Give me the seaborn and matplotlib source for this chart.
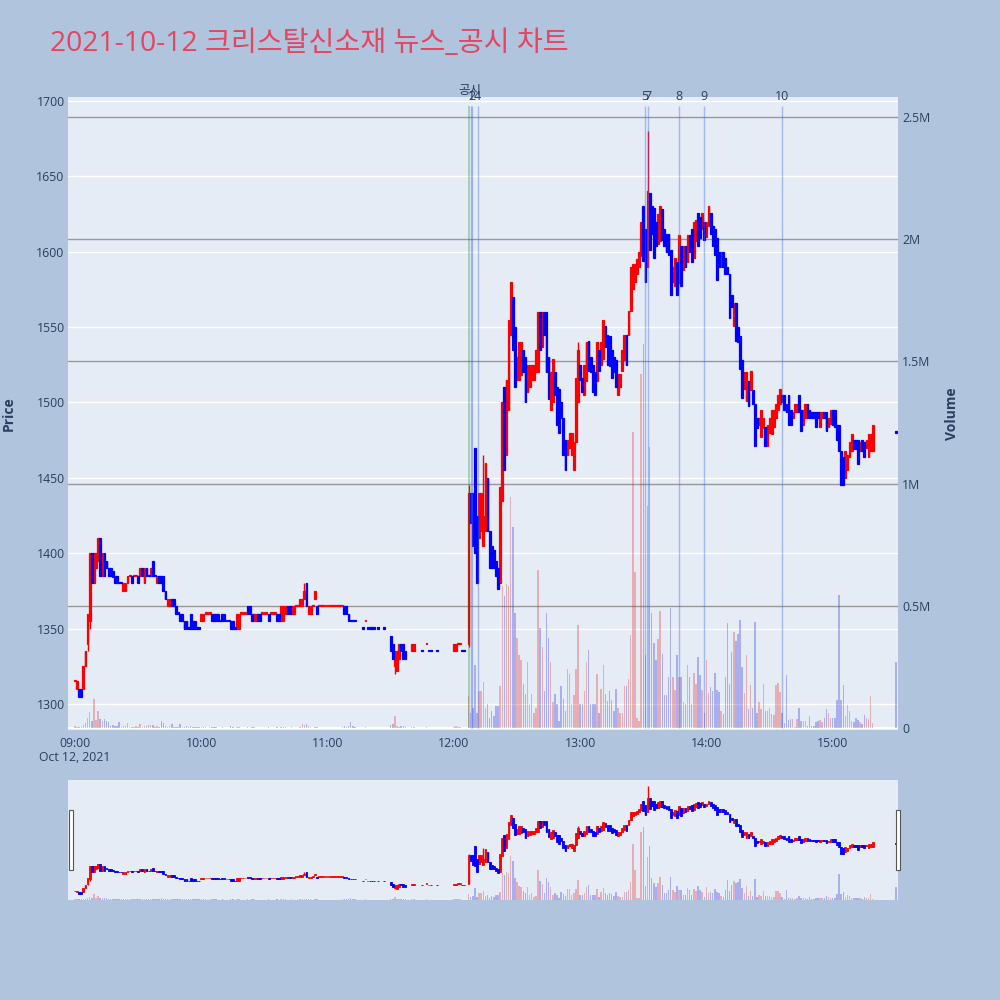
import numpy as np
import pandas as pd
import matplotlib
matplotlib.use("Agg")
import matplotlib.pyplot as plt
from matplotlib.patches import Rectangle
import seaborn as sns

N = None
title = "2021-10-12 크리스탈신소재 뉴스_공시 차트"

# 1-minute candles, list index = minutes after 09:00, None = no trade
opens = [
    # 09:00
    1315, 1310, 1310, 1310, 1310, 1325, 1340, 1355, 1400, 1380,
    1390, 1395, 1410, 1385, 1400, 1395, 1390, 1390, 1388, 1385,
    1385, 1380, 1380, 1375, 1375, 1380, 1385, 1385, 1385, 1385,
    1385, 1385, 1390, 1380, 1390, 1385, 1385, 1395, 1385, 1380,
    1385, 1385, 1385, 1375, 1365, 1365, 1370, 1370, 1365, 1360,
    1360, 1360, 1355, 1355, 1350, 1360, 1355, 1355, 1350, 1350,
    # 10:00
    1355, 1355, 1360, 1360, 1360, 1360, 1360, 1360, 1360, 1355,
    1360, 1360, 1355, 1355, 1355, 1355, 1350, 1350, 1350, 1360,
    1360, 1360, 1365, 1365, 1360, 1355, 1355, 1360, 1360, 1360,
    1360, 1360, 1360, 1360, 1360, 1360, 1360, 1360, 1355, 1355,
    1360, 1365, 1365, 1360, 1360, 1365, 1365, 1365, 1365, 1370,
    1380, 1360, 1360, 1365, 1370, 1365, 1365, 1365, 1365, 1365,
    # 11:00
    1365, 1365, 1365, 1365, 1365, 1365, 1365, 1365, 1365, 1365,
    1360, 1355, 1355, 1355, N, N, N, 1350, 1355, 1350,
    1350, 1350, 1350, N, 1350, N, N, 1350, N, N,
    1345, 1340, 1325, 1322, 1330, 1340, 1340, 1335, N, N,
    1335, 1335, N, N, N, 1335, N, 1340, 1335, 1335,
    N, N, 1335, N, N, N, N, N, N, N,
    # 12:00
    1335, 1335, 1340, 1340, 1335, 1335, N, 1340, 1440, 1440,
    1470, 1425, 1410, 1415, 1405, 1415, 1450, 1415, 1405, 1402,
    1395, 1390, 1380, 1435, 1510, 1465, 1495, 1545, 1570, 1550,
    1515, 1515, 1518, 1535, 1530, 1507, 1510, 1515, 1515, 1520,
    1520, 1560, 1537, 1560, 1560, 1530, 1495, 1500, 1520, 1510,
    1509, 1500, 1490, 1475, 1465, 1470, 1465, 1455, 1474, 1500,
    # 13:00
    1525, 1516, 1505, 1514, 1541, 1530, 1525, 1520, 1514, 1535,
    1525, 1529, 1551, 1545, 1544, 1535, 1530, 1528, 1505, 1510,
    1521, 1528, 1545, 1545, 1561, 1575, 1580, 1585, 1590, 1597,
    1630, 1615, 1590, 1639, 1630, 1629, 1620, 1605, 1607, 1628,
    1615, 1612, 1612, 1601, 1580, 1577, 1593, 1579, 1604, 1588,
    1604, 1593, 1611, 1615, 1596, 1607, 1626, 1623, 1615, 1620,
    # 14:00
    1610, 1617, 1626, 1617, 1615, 1609, 1600, 1590, 1600, 1596,
    1590, 1585, 1571, 1551, 1566, 1550, 1544, 1528, 1509, 1501,
    1514, 1508, 1508, 1499, 1490, 1485, 1477, 1483, 1484, 1471,
    1480, 1479, 1484, 1490, 1495, 1499, 1505, 1505, 1499, 1505,
    1495, 1490, 1494, 1494, 1505, 1495, 1485, 1490, 1499, 1495,
    1494, 1494, 1494, 1494, 1484, 1490, 1494, 1494, 1484, 1486,
    # 15:00
    1495, 1495, 1485, 1485, 1468, 1464, 1450, 1455, 1464, 1468,
    1475, 1475, 1475, 1468, 1475, 1474, 1470, 1464, 1468, 1468,
    N, N, N, N, N, N, N, N, N, N,
    1480,
]
closes = [
    # 09:00
    1315, 1315, 1305, 1305, 1325, 1335, 1360, 1400, 1380, 1400,
    1400, 1410, 1385, 1400, 1385, 1390, 1385, 1385, 1384, 1380,
    1380, 1380, 1380, 1380, 1380, 1385, 1385, 1380, 1385, 1385,
    1380, 1390, 1385, 1390, 1385, 1385, 1390, 1385, 1385, 1385,
    1380, 1380, 1375, 1370, 1370, 1370, 1365, 1365, 1360, 1360,
    1355, 1355, 1350, 1350, 1350, 1350, 1350, 1350, 1350, 1350,
    # 10:00
    1360, 1360, 1360, 1360, 1360, 1355, 1355, 1355, 1355, 1355,
    1355, 1355, 1355, 1355, 1350, 1350, 1350, 1360, 1360, 1360,
    1360, 1360, 1360, 1360, 1355, 1360, 1360, 1355, 1355, 1360,
    1360, 1360, 1355, 1360, 1360, 1360, 1355, 1355, 1365, 1365,
    1365, 1360, 1360, 1365, 1365, 1365, 1365, 1370, 1370, 1375,
    1365, 1365, 1365, 1365, 1375, 1360, 1365, 1365, 1365, 1365,
    # 11:00
    1365, 1365, 1365, 1365, 1365, 1365, 1365, 1365, 1360, 1360,
    1355, 1355, 1355, 1355, N, N, N, 1350, 1355, 1350,
    1350, 1350, 1350, N, 1350, N, N, 1350, N, N,
    1335, 1330, 1335, 1335, 1340, 1335, 1330, 1330, N, N,
    1340, 1340, N, N, N, 1335, N, 1340, 1335, 1335,
    N, N, 1335, N, N, N, N, N, N, N,
    # 12:00
    1340, 1340, 1340, 1340, 1335, 1335, N, 1440, 1420, 1405,
    1400, 1380, 1440, 1440, 1425, 1460, 1415, 1390, 1390, 1390,
    1385, 1376, 1444, 1500, 1455, 1515, 1555, 1580, 1535, 1510,
    1530, 1540, 1540, 1520, 1500, 1525, 1525, 1525, 1525, 1535,
    1560, 1535, 1560, 1545, 1520, 1502, 1520, 1529, 1505, 1485,
    1480, 1490, 1465, 1455, 1475, 1480, 1480, 1474, 1516, 1535,
    # 13:00
    1515, 1507, 1525, 1540, 1521, 1520, 1507, 1505, 1540, 1521,
    1540, 1555, 1537, 1525, 1524, 1516, 1520, 1510, 1519, 1519,
    1535, 1545, 1525, 1561, 1590, 1592, 1592, 1595, 1600, 1620,
    1594, 1580, 1640, 1601, 1612, 1596, 1604, 1625, 1630, 1608,
    1604, 1600, 1598, 1571, 1590, 1596, 1571, 1611, 1577, 1604,
    1590, 1611, 1600, 1593, 1620, 1621, 1604, 1609, 1626, 1608,
    # 14:00
    1620, 1630, 1612, 1604, 1598, 1581, 1590, 1600, 1590, 1585,
    1585, 1556, 1563, 1566, 1541, 1540, 1522, 1503, 1520, 1520,
    1498, 1521, 1499, 1471, 1483, 1490, 1495, 1490, 1471, 1485,
    1490, 1495, 1495, 1499, 1505, 1509, 1500, 1495, 1494, 1485,
    1485, 1494, 1499, 1499, 1494, 1481, 1495, 1499, 1490, 1490,
    1490, 1490, 1484, 1490, 1494, 1494, 1490, 1481, 1490, 1495,
    # 15:00
    1485, 1484, 1475, 1468, 1445, 1445, 1468, 1465, 1474, 1479,
    1469, 1469, 1459, 1474, 1468, 1464, 1475, 1479, 1479, 1485,
    N, N, N, N, N, N, N, N, N, N,
    1480,
]
# volume per minute, thousand shares
volumes = [
    # 09:00
    8, 5, 6, 5, 12, 20, 40, 64, 30, 120,
    34, 68, 38, 27, 36, 27, 23, 10, 12, 8,
    10, 23, 6, 8, 10, 20, 5, 6, 4, 8,
    6, 18, 6, 10, 8, 14, 12, 14, 6, 8,
    6, 30, 20, 10, 6, 8, 15, 5, 6, 4,
    15, 6, 5, 8, 4, 10, 6, 5, 3, 4,
    # 10:00
    5, 4, 3, 2, 3, 4, 3, 3, 2, 2,
    3, 2, 2, 2, 8, 3, 2, 4, 3, 2,
    2, 2, 3, 2, 6, 3, 2, 2, 2, 2,
    2, 2, 3, 2, 2, 2, 6, 2, 4, 3,
    3, 2, 2, 3, 2, 2, 2, 5, 15, 12,
    18, 8, 5, 2, 3, 4, 2, 2, 2, 2,
    # 11:00
    2, 2, 2, 2, 2, 2, 2, 3, 10, 6,
    8, 25, 10, 3, N, N, N, 2, 3, 2,
    2, 2, 2, N, 2, N, N, 2, N, N,
    13, 15, 50, 7, 5, 10, 8, 4, N, N,
    4, 3, N, N, N, 2, N, 3, 2, 2,
    N, N, 2, N, N, N, N, N, N, N,
    # 12:00
    6, 10, 3, 3, 2, 2, N, 130, 60, 80,
    260, 60, 150, 150, 190, 80, 100, 40, 70, 50,
    90, 90, 170, 580, 540, 590, 580, 945, 823, 470,
    370, 300, 280, 180, 140, 270, 100, 140, 60, 80,
    646, 410, 330, 151, 470, 370, 270, 108, 140, 100,
    30, 170, 120, 70, 240, 220, 100, 135, 240, 420,
    # 13:00
    100, 100, 150, 270, 320, 100, 100, 100, 220, 60,
    160, 260, 140, 110, 150, 115, 70, 160, 80, 60,
    60, 170, 170, 200, 380, 1210, 640, 40, 30, 1450,
    1570, 300, 910, 1150, 470, 350, 280, 364, 480, 305,
    135, 135, 207, 490, 207, 155, 300, 210, 210, 107,
    100, 260, 207, 100, 226, 180, 290, 217, 155, 60,
    # 14:00
    280, 145, 166, 152, 227, 155, 148, 70, 57, 210,
    428, 180, 310, 394, 356, 385, 442, 250, 142, 300,
    78, 176, 80, 435, 63, 107, 76, 180, 71, 71,
    80, 56, 53, 176, 183, 148, 60, 20, 217, 33,
    35, 35, 5, 35, 84, 30, 28, 28, 10, 48,
    10, 8, 25, 30, 33, 25, 40, 77, 60, 40,
    # 15:00
    40, 40, 114, 544, 114, 175, 48, 94, 70, 30,
    25, 40, 33, 25, 15, 53, 40, 35, 130, 20,
    N, N, N, N, N, N, N, N, N, N,
    270,
]
# wicks sticking out of the body: minute -> (low, high)
wicks = {6: (1335, 1360), 7: (1350, 1400), 109: (1370, 1380), 152: (1320, 1335),
         187: (1338, 1445), 190: (1400, 1470), 194: (1405, 1465), 239: (1500, 1540),
         272: (1590, 1680), 364: (1445, 1468)}

event_labels = ["공시", "1", "2", "4", "5", "7", "8", "9", "10"]
event_minutes = [187.4, 188.2, 188.6, 191.3, 270.8, 272.3, 286.9, 298.8, 335.7]

time_labels = ["09:00", "10:00", "11:00", "12:00", "13:00", "14:00", "15:00"]
price_ticks = [1300, 1350, 1400, 1450, 1500, 1550, 1600, 1650, 1700]
vol_ticks = [0, 500, 1000, 1500, 2000, 2500]
vol_labels = ["0", "0.5M", "1M", "1.5M", "2M", "2.5M"]

assert len(opens) == len(closes) == len(volumes) == 391

df = pd.DataFrame({"open": opens, "close": closes, "volume": volumes}, dtype=float)
df["minute"] = df.index.astype(float)
df = df.dropna()

# direction like plotly: flat candles follow the previous close
dirs = []
prev_c, prev_d = None, "up"
for o, c in zip(df["open"], df["close"]):
    if c > o:
        d = "up"
    elif c < o:
        d = "down"
    elif prev_c is not None and c > prev_c:
        d = "up"
    elif prev_c is not None and c < prev_c:
        d = "down"
    else:
        d = prev_d
    dirs.append(d)
    prev_c, prev_d = c, d
df["dir"] = dirs
df["low"] = df[["open", "close"]].min(axis=1)
df["high"] = df[["open", "close"]].max(axis=1)
for m, (lo, hi) in wicks.items():
    df.loc[m, "low"] = min(df.loc[m, "low"], lo)
    df.loc[m, "high"] = max(df.loc[m, "high"], hi)

BG = "#B0C4DE"
PLOT_BG = "#E5ECF6"
TXT = "#2a3f5f"
colors = {"up": "#FF0000", "down": "#0000FF"}

sns.set_style("white")
plt.rcParams["font.family"] = ["Open Sans", "Noto Sans CJK KR", "DejaVu Sans"]

xlim = (-3.3, 391.0)
plim = (1282.8, 1702.6)
vlim = (-8, 2582)

fig = plt.figure(figsize=(10, 10), dpi=100, facecolor=BG)


def draw(rect, small=False):
    axv = fig.add_axes(rect, facecolor=PLOT_BG)
    axp = fig.add_axes(rect)
    axp.patch.set_visible(False)
    for a in (axv, axp):
        for s in a.spines.values():
            s.set_visible(False)

    sns.barplot(data=df, x="minute", y="volume", hue="dir", palette=colors,
                native_scale=True, dodge=False, width=0.7, errorbar=None,
                legend=False, alpha=0.3, linewidth=0, ax=axv)

    for key, col in colors.items():
        sub = df[df["dir"] == key]
        axp.vlines(sub["minute"], sub["low"], sub["high"], color=col,
                   lw=1.0, zorder=3)
        bottom = sub[["open", "close"]].min(axis=1)
        height = (sub["close"] - sub["open"]).abs().clip(lower=0.8)
        axp.bar(sub["minute"], height, bottom=bottom, width=0.85, color=col,
                edgecolor=col, linewidth=0.9 if not small else 0.6, zorder=4)

    for a in (axv, axp):
        a.set_xlim(*xlim)
        a.set_xlabel("")
        a.set_ylabel("")
    axv.set_ylim(*vlim)
    axp.set_ylim(*plim)
    return axv, axp


# main chart
axv, axp = draw([0.068, 0.270, 0.830, 0.633])

for p in price_ticks:
    f = (p - plim[0]) / (plim[1] - plim[0])
    axv.plot([0, 1], [f, f], transform=axv.transAxes, color="white", lw=1, zorder=0.5)
for t in vol_ticks[1:]:
    axv.axhline(t, color="#999999", lw=1, zorder=0.6)
axv.axhline(0, color="white", lw=1.5, zorder=0.6)

axv.yaxis.tick_right()
axv.set_yticks(vol_ticks)
axv.set_yticklabels(vol_labels)
axv.tick_params(axis="y", length=0, pad=3, labelsize=8.8, labelcolor=TXT,
                left=False, labelleft=False, right=False, labelright=True)
axv.tick_params(axis="x", bottom=False, labelbottom=False)

axp.set_yticks(price_ticks)
axp.set_yticklabels([str(p) for p in price_ticks])
axp.set_xticks([60 * i for i in range(len(time_labels))])
axp.set_xticklabels(time_labels)
axp.tick_params(axis="both", length=0, labelsize=8.8, labelcolor=TXT)
axp.tick_params(axis="y", pad=2.5)
axp.tick_params(axis="x", pad=5)

# news / disclosure markers
trans = axp.get_xaxis_transform()
for lab, m in zip(event_labels, event_minutes):
    if lab == "공시":
        axp.vlines(m, 0.003, 0.986, transform=trans, color="green", alpha=0.35, lw=1.1, zorder=5)
        axp.text(m, 1.011, lab, transform=trans, ha="center", va="center",
                 fontsize=9, color=TXT)
    else:
        axp.vlines(m, 0.003, 0.986, transform=trans, color="royalblue", alpha=0.4, lw=1, zorder=5)
        axp.text(m, 1.0, lab, transform=trans, ha="center", va="center",
                 fontsize=9, color=TXT)

axp.text(0, -0.043, "Oct 12, 2021", transform=trans, ha="center", va="center",
         fontsize=8.8, color=TXT)

fig.text(0.05, 0.956, title, fontsize=20.3, color="#E5455E", ha="left", va="center")
fig.text(0.009, 0.5865, "Price", rotation=90, ha="center", va="center",
         fontsize=10, fontweight="bold", color=TXT)
fig.text(0.952, 0.5865, "Volume", rotation=90, ha="center", va="center",
         fontsize=10, fontweight="bold", color=TXT)

# range slider
sv, sp = draw([0.068, 0.100, 0.830, 0.120], small=True)
for a in (sv, sp):
    a.set_xticks([])
    a.set_yticks([])
for hx in (0.0685, 0.8955):
    fig.patches.append(Rectangle((hx, 0.130), 0.0045, 0.060, transform=fig.transFigure,
                                 facecolor="white", edgecolor="#555555", lw=0.8))

fig.savefig("out.png", dpi=100, facecolor=BG)
